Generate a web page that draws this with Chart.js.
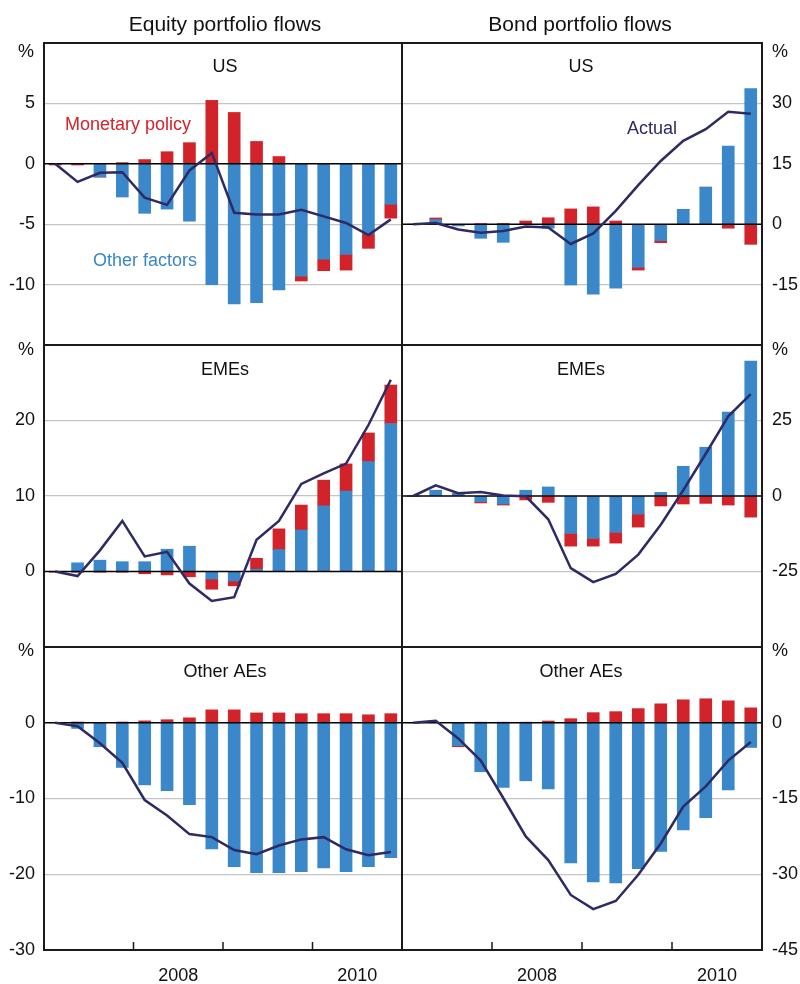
<!DOCTYPE html>
<html>
<head>
<meta charset="utf-8">
<script src="https://cdn.jsdelivr.net/npm/chart.js@4.4.1/dist/chart.umd.min.js"></script>
<style>
  html, body { margin: 0; padding: 0; background: #fff; }
  #wrap { position: relative; width: 800px; height: 984px; overflow: hidden; }
  #wrap canvas { position: absolute; left: 0; top: 0; }
</style>
</head>
<body>
<div id="wrap"></div>
<script>
// Quarterly observations, 2007 Q1 to 2010 Q4 (cumulative flows, per cent)
const quarters = [
  '2007Q1', '2007Q2', '2007Q3', '2007Q4',
  '2008Q1', '2008Q2', '2008Q3', '2008Q4',
  '2009Q1', '2009Q2', '2009Q3', '2009Q4',
  '2010Q1', '2010Q2', '2010Q3', '2010Q4'
];
const yearTicks = [2008, 2009, 2010];
const yearLabels = ['2008', '2010'];

// Equity portfolio flows
const equityUSOther  = [0, 0, -1.1, -2.75, -4.1, -3.75, -4.75, -10.0, -11.6, -11.5, -10.45, -9.3, -7.9, -7.5, -5.8, -3.35];
const equityUSPolicy = [-0.1, -0.1, 0, 0.1, 0.35, 1.0, 1.75, 5.25, 4.25, 1.85, 0.6, -0.4, -0.95, -1.3, -1.2, -1.15];
const equityUSActual = [0, -1.5, -0.75, -0.7, -2.8, -3.4, -0.55, 0.9, -4.05, -4.2, -4.2, -3.8, -4.35, -4.9, -5.9, -4.6];

const equityEMOther  = [0, 1.15, 1.5, 1.3, 1.3, 2.95, 3.35, -1.0, -1.25, 0.3, 2.9, 5.5, 8.7, 10.65, 14.55, 19.6];
const equityEMPolicy = [-0.1, -0.1, -0.1, -0.1, -0.3, -0.45, -0.7, -1.35, -0.65, 1.45, 2.75, 3.3, 3.4, 3.6, 3.8, 5.1];
const equityEMActual = [0, -0.6, 2.8, 6.7, 2.0, 2.6, -1.6, -3.9, -3.4, 4.2, 6.7, 11.6, 13.0, 14.3, 19.4, 25.4];

const equityAEOther  = [0, -0.75, -3.15, -5.9, -8.2, -8.95, -10.8, -16.65, -19.0, -19.8, -19.8, -19.65, -19.15, -19.65, -19.0, -17.8];
const equityAEPolicy = [0, 0.1, 0, 0.1, 0.25, 0.4, 0.65, 1.7, 1.7, 1.3, 1.3, 1.2, 1.2, 1.2, 1.05, 1.2];
const equityAEActual = [0, -0.45, -2.7, -5.3, -10.2, -12.25, -14.7, -15.1, -16.8, -17.35, -16.2, -15.4, -15.1, -16.7, -17.5, -17.05];

// Bond portfolio flows
const bondUSOther  = [0, 1.15, -0.4, -3.5, -4.5, 0, -1.0, -15.1, -17.4, -15.9, -10.7, -4.1, 3.7, 9.2, 19.4, 33.7];
const bondUSPolicy = [0, 0.4, 0, 0.1, 0.2, 0.8, 1.6, 3.8, 4.3, 0.8, -0.7, -0.5, 0, 0, -1.0, -5.0];
const bondUSActual = [0, 0.3, -1.3, -2.1, -1.7, -0.6, -0.8, -4.9, -2.3, 3.3, 9.7, 15.7, 20.7, 23.6, 27.9, 27.4];

const bondEMOther  = [0, 1.9, 0.8, -1.9, -2.65, 1.9, 3.0, -12.4, -14.05, -12.05, -6.0, 1.2, 9.85, 16.15, 27.8, 44.7];
const bondEMPolicy = [0, 0, 0, -0.4, -0.35, -1.3, -2.1, -4.2, -2.55, -3.55, -4.3, -3.3, -2.65, -2.45, -3.0, -7.0];
const bondEMActual = [0, 3.5, 0.9, 1.3, 0.2, -0.1, -7.7, -23.9, -28.5, -25.8, -19.4, -9.5, 1.9, 14.0, 26.4, 33.7];

const bondAEOther  = [0, 0, -4.55, -9.7, -12.8, -11.5, -13.1, -27.75, -31.5, -31.7, -28.9, -25.5, -21.2, -18.8, -13.3, -4.9];
const bondAEPolicy = [0, 0, -0.2, 0.1, 0.1, 0.1, 0.35, 0.8, 2.0, 2.2, 2.8, 3.75, 4.55, 4.75, 4.35, 2.95];
const bondAEActual = [0, 0.4, -3.1, -7.5, -14.9, -22.5, -27.2, -34.1, -36.9, -35.3, -30.1, -23.9, -16.6, -12.6, -7.5, -3.8];

const BLUE = '#3a87c9';
const RED = '#d2232a';
const NAVY = '#2d2a64';
const GRID = '#c4c4c4';
const FONT = "'Liberation Sans', Arial, Helvetica, sans-serif";

// each quarter sits in the middle of its quarter of the year
const quarterPos = q => parseInt(q.slice(0, 4), 10) + (parseInt(q.slice(5), 10) - 0.5) / 4;
const xs = quarters.map(quarterPos);
const points = arr => arr.map((v, i) => ({ x: xs[i], y: v }));

const wrap = document.getElementById('wrap');

// Frame, zero line, inward year ticks and panel text
const panelDecor = {
  id: 'panelDecor',
  beforeDatasetDraw(chart, args, opts) {
    if (args.index !== 2) return;
    const { ctx, chartArea } = chart;
    const y0 = chart.scales.y.getPixelForValue(0);
    ctx.save();
    ctx.strokeStyle = '#000';
    ctx.lineWidth = 1.5;
    ctx.beginPath();
    ctx.moveTo(chartArea.left, y0);
    ctx.lineTo(chartArea.right, y0);
    ctx.stroke();
    ctx.restore();
  },
  afterDraw(chart, args, opts) {
    const { ctx, chartArea } = chart;
    ctx.save();
    ctx.strokeStyle = '#1a1a1a';
    ctx.lineWidth = 2;
    ctx.strokeRect(chartArea.left, chartArea.top, chartArea.right - chartArea.left, chartArea.bottom - chartArea.top);
    if (opts.yearMarks) {
      const xScale = chart.scales.x;
      ctx.lineWidth = 1.5;
      ctx.beginPath();
      yearTicks.forEach(v => {
        const px = xScale.getPixelForValue(v);
        ctx.moveTo(px, chartArea.bottom - 8);
        ctx.lineTo(px, chartArea.bottom);
      });
      ctx.stroke();
    }
    (opts.texts || []).forEach(t => {
      ctx.font = (t.size || 18) + 'px ' + FONT;
      ctx.fillStyle = t.color || '#111';
      ctx.textAlign = t.align || 'left';
      ctx.textBaseline = t.baseline || 'alphabetic';
      ctx.fillText(t.text, t.x, t.y);
    });
    ctx.restore();
  }
};

function makePanel(p) {
  const canvas = document.createElement('canvas');
  canvas.width = 800;
  canvas.height = 984;
  wrap.appendChild(canvas);
  const left = p.side === 'left';
  const showX = !!p.showX;
  const unitText = left
    ? { text: '%', x: 34, y: p.unitY, align: 'right', baseline: 'middle' }
    : { text: '%', x: 772, y: p.unitY, align: 'left', baseline: 'middle' };

  new Chart(canvas, {
    type: 'bar',
    data: {
      datasets: [
        { label: 'Other factors', data: points(p.other), backgroundColor: BLUE, stack: 'parts', order: 1, barThickness: 12 },
        { label: 'Monetary policy', data: points(p.policy), backgroundColor: RED, stack: 'parts', order: 1, barThickness: 12 },
        { type: 'line', label: 'Actual', data: points(p.actual), borderColor: NAVY, borderWidth: 2.5,
          pointRadius: 0, tension: 0, fill: false, stack: 'actual', order: 0 }
      ]
    },
    options: {
      responsive: false,
      animation: false,
      devicePixelRatio: 1,
      layout: {
        padding: {
          left: left ? 0 : 402,
          right: left ? 398 : 0,
          top: p.top,
          bottom: showX ? 0 : 984 - p.bottom
        }
      },
      plugins: {
        legend: { display: false },
        tooltip: { enabled: false },
        panelDecor: { yearMarks: showX, texts: [unitText].concat(p.texts) }
      },
      scales: {
        x: {
          type: 'linear',
          min: 2007,
          max: 2011,
          offset: false,
          stacked: true,
          display: showX,
          grid: { display: false, drawTicks: false, offset: false },
          border: { display: false },
          afterBuildTicks: s => { s.ticks = yearLabels.map(y => ({ value: +y + 0.5 })); },
          afterFit: s => { s.height = showX ? 34 : 0; },
          ticks: {
            autoSkip: false,
            maxRotation: 0,
            padding: 15,
            color: '#111',
            font: { family: FONT, size: 18 },
            callback: v => {
              const lbl = yearLabels.find(y => Math.abs(+y + 0.5 - v) < 1e-6);
              return lbl || '';
            }
          }
        },
        y: {
          position: left ? 'left' : 'right',
          stacked: true,
          min: p.min,
          max: p.max,
          afterFit: s => { s.width = left ? 44 : 38; },
          border: { display: false },
          grid: {
            drawTicks: false,
            lineWidth: 1.2,
            color: c => {
              const v = c.tick.value;
              return (v === p.min || v === p.max || v === 0) ? 'rgba(0,0,0,0)' : GRID;
            }
          },
          ticks: {
            stepSize: p.step,
            padding: left ? 9 : 10,
            color: '#111',
            font: { family: FONT, size: 18 },
            callback: v => (v === p.max || (v === p.min && !p.showMin)) ? '' : String(v)
          }
        }
      }
    },
    plugins: [panelDecor]
  });
}

const panels = [
  { side: 'left', top: 43, bottom: 345, min: -15, max: 10, step: 5, unitY: 52,
    other: equityUSOther, policy: equityUSPolicy, actual: equityUSActual,
    texts: [
      { text: 'Equity portfolio flows', x: 225, y: 31, size: 21, align: 'center' },
      { text: 'US', x: 225, y: 72, align: 'center' },
      { text: 'Monetary policy', x: 65, y: 130, color: RED },
      { text: 'Other factors', x: 93, y: 266, color: BLUE }
    ] },
  { side: 'right', top: 43, bottom: 345, min: -30, max: 45, step: 15, unitY: 52,
    other: bondUSOther, policy: bondUSPolicy, actual: bondUSActual,
    texts: [
      { text: 'Bond portfolio flows', x: 580, y: 31, size: 21, align: 'center' },
      { text: 'US', x: 581, y: 72, align: 'center' },
      { text: 'Actual', x: 627, y: 134, color: NAVY }
    ] },
  { side: 'left', top: 345, bottom: 647, min: -10, max: 30, step: 10, unitY: 350,
    other: equityEMOther, policy: equityEMPolicy, actual: equityEMActual,
    texts: [{ text: 'EMEs', x: 225, y: 375, align: 'center' }] },
  { side: 'right', top: 345, bottom: 647, min: -50, max: 50, step: 25, unitY: 350,
    other: bondEMOther, policy: bondEMPolicy, actual: bondEMActual,
    texts: [{ text: 'EMEs', x: 581, y: 375, align: 'center' }] },
  { side: 'left', top: 647, bottom: 950, min: -30, max: 10, step: 10, unitY: 651, showX: true, showMin: true,
    other: equityAEOther, policy: equityAEPolicy, actual: equityAEActual,
    texts: [{ text: 'Other AEs', x: 225, y: 677, align: 'center' }] },
  { side: 'right', top: 647, bottom: 950, min: -45, max: 15, step: 15, unitY: 651, showX: true, showMin: true,
    other: bondAEOther, policy: bondAEPolicy, actual: bondAEActual,
    texts: [{ text: 'Other AEs', x: 581, y: 677, align: 'center' }] }
];

panels.forEach(makePanel);
</script>
</body>
</html>
